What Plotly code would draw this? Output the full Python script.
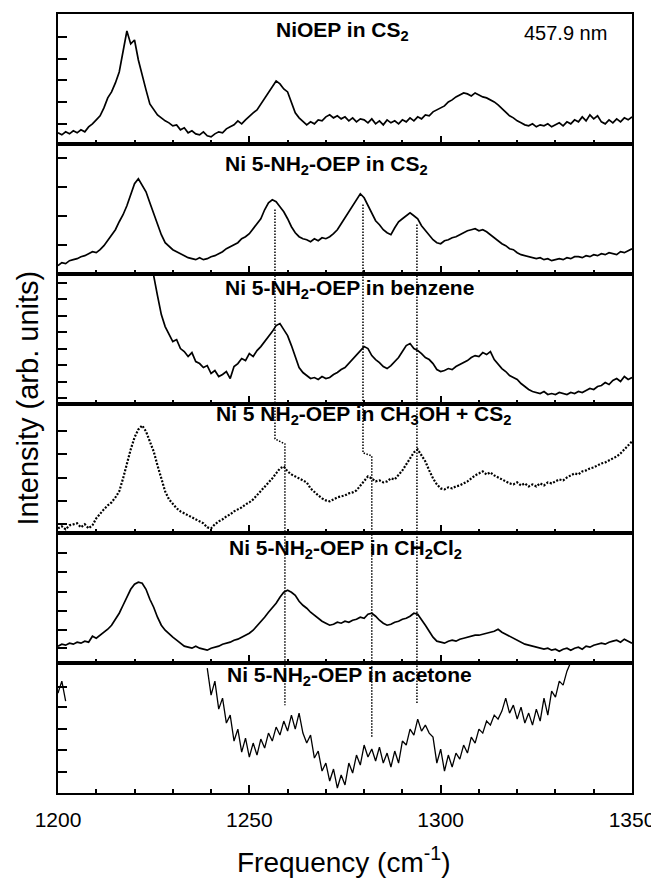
import plotly.graph_objects as go
from plotly.subplots import make_subplots

N = None
freq = list(range(1200, 1351))

niOEP_cs2 = [11, 9, 12, 10, 13, 11, 14, 12, 17, 20,
             24, 28, 36, 46, 52, 61, 72, 91, 113, 100,
             104, 84, 68, 54, 40, 34, 29, 26, 23, 21,
             18, 19, 14, 16, 11, 13, 10, 9, 12, 8,
             7, 10, 12, 11, 15, 17, 19, 23, 20, 24,
             28, 31, 34, 40, 46, 52, 58, 63, 60, 55,
             52, 41, 31, 26, 22, 19, 22, 20, 24, 23,
             27, 29, 26, 28, 25, 27, 23, 26, 22, 25,
             24, 21, 25, 20, 23, 19, 24, 21, 23, 20,
             24, 22, 26, 23, 27, 25, 29, 28, 32, 34,
             36, 38, 42, 44, 47, 49, 51, 50, 48, 51,
             49, 47, 46, 44, 42, 39, 35, 31, 28, 26,
             23, 21, 19, 18, 20, 17, 19, 18, 20, 17,
             19, 21, 18, 22, 20, 24, 22, 27, 23, 29,
             25, 28, 22, 20, 24, 21, 25, 22, 26, 24,
             27]

nh2_cs2 = [8, 11, 10, 13, 14, 15, 17, 18, 20, 22,
           21, 24, 28, 33, 38, 44, 52, 59, 68, 79,
           90, 95, 89, 82, 71, 60, 50, 39, 31, 27,
           24, 22, 20, 18, 16, 15, 14, 16, 14, 15,
           17, 18, 20, 22, 25, 27, 29, 31, 35, 37,
           40, 45, 49, 55, 64, 71, 74, 72, 67, 62,
           55, 47, 41, 37, 35, 34, 32, 35, 33, 36,
           35, 37, 40, 44, 50, 56, 62, 69, 74, 80,
           76, 68, 60, 53, 49, 44, 41, 39, 46, 52,
           55, 58, 61, 58, 55, 48, 43, 38, 34, 31,
           30, 33, 34, 36, 37, 39, 41, 43, 44, 45,
           43, 44, 42, 39, 36, 33, 30, 28, 25, 24,
           21, 19, 18, 17, 16, 15, 16, 14, 15, 13,
           14, 15, 14, 16, 15, 17, 17, 16, 18, 17,
           19, 18, 20, 19, 21, 20, 19, 22, 21, 23,
           25]

nh2_benzene = [N, N, N, N, N, N, N, N, N, N,
               N, N, N, N, N, N, N, N, N, N,
               N, N, N, N, 160, 128, 108, 89, 77, 70,
               62, 64, 55, 52, 47, 51, 42, 40, 36, 38,
               30, 33, 27, 29, 32, 25, 37, 40, 45, 43,
               50, 47, 53, 57, 62, 66, 72, 78, 80, 74,
               68, 58, 46, 36, 31, 28, 25, 26, 24, 27,
               25, 26, 29, 31, 34, 36, 40, 45, 49, 53,
               57, 55, 48, 44, 41, 37, 35, 38, 42, 46,
               52, 58, 60, 55, 53, 50, 46, 44, 40, 34,
               32, 33, 35, 34, 37, 39, 41, 43, 46, 48,
               47, 51, 49, 52, 44, 39, 35, 32, 28, 26,
               24, 20, 17, 14, 12, 11, 10, 12, 9, 10,
               9, 11, 10, 9, 11, 10, 12, 11, 13, 15,
               14, 17, 18, 21, 19, 23, 25, 22, 27, 24,
               26]

nh2_ch3oh_cs2 = [5, 7, 4, 8, 9, 10, 6, 9, 5, 8,
                 15, 20, 24, 28, 31, 36, 42, 55, 70, 84,
                 96, 104, 108, 102, 92, 82, 68, 54, 42, 34,
                 29, 25, 22, 20, 18, 16, 14, 12, 10, 6,
                 5, 9, 12, 14, 17, 19, 22, 24, 26, 29,
                 31, 34, 38, 42, 46, 50, 55, 60, 65, 67,
                 62, 59, 57, 55, 53, 51, 45, 41, 38, 35,
                 33, 32, 34, 36, 37, 38, 40, 41, 43, 48,
                 53, 57, 55, 52, 53, 51, 52, 55, 54, 58,
                 63, 69, 75, 81, 84, 78, 72, 63, 55, 49,
                 45, 44, 46, 45, 47, 48, 50, 52, 55, 58,
                 60, 62, 59, 61, 58, 56, 54, 52, 50, 49,
                 51, 48, 50, 47, 49, 47, 50, 48, 51, 50,
                 52, 54, 53, 56, 58, 60, 59, 62, 63, 65,
                 66, 68, 70, 71, 73, 75, 77, 80, 84, 88,
                 92]

nh2_ch2cl2 = [17, 19, 18, 20, 19, 21, 20, 22, 21, 27,
              25, 28, 31, 34, 38, 44, 50, 58, 66, 74,
              79, 81, 80, 74, 64, 56, 46, 38, 33, 29,
              26, 23, 20, 17, 16, 15, 17, 15, 14, 13,
              15, 16, 17, 19, 20, 21, 23, 24, 26, 28,
              30, 33, 37, 42, 46, 51, 55, 60, 66, 71,
              73, 71, 68, 62, 58, 55, 51, 48, 45, 42,
              40, 38, 39, 41, 40, 42, 41, 43, 44, 46,
              45, 49, 50, 47, 43, 40, 38, 39, 41, 42,
              44, 45, 47, 50, 49, 44, 38, 32, 26, 22,
              21, 20, 22, 23, 22, 24, 25, 26, 27, 28,
              28, 29, 30, 31, 32, 34, 31, 29, 27, 25,
              23, 21, 19, 18, 17, 16, 15, 14, 15, 13,
              14, 12, 14, 15, 13, 15, 16, 14, 17, 16,
              18, 19, 20, 19, 21, 22, 23, 21, 24, 22,
              20]

nh2_acetone = [100, 112, 92, N, N, N, N, N, N, N,
               N, N, N, N, N, N, N, N, N, N,
               N, N, N, N, N, N, N, N, N, N,
               N, N, N, N, N, N, N, N, N, 125,
               98, 112, 84, 95, 70, 78, 52, 64, 41, 55,
               36, 50, 38, 54, 45, 60, 52, 66, 58, 72,
               62, 78, 64, 80, 60, 50, 58, 35, 42, 22,
               30, 12, 24, 5, 18, 8, 30, 20, 38, 28,
               48, 36, 44, 32, 46, 30, 40, 26, 42, 30,
               52, 48, 64, 58, 74, 62, 68, 60, 56, 30,
               44, 22, 38, 26, 40, 34, 48, 40, 56, 50,
               64, 60, 72, 68, 78, 74, 82, 95, 80, 88,
               74, 86, 70, 80, 68, 84, 72, 95, 78, 102,
               96, 112, 108, 122, 130, 140, N, N, N, N,
               N, N, N, N, N, N, N, N, N, N,
               N]

panel_titles = ["NiOEP in CS<sub>2</sub>",
                "Ni 5-NH<sub>2</sub>-OEP in CS<sub>2</sub>",
                "Ni 5-NH<sub>2</sub>-OEP in benzene",
                "Ni 5 NH<sub>2</sub>-OEP in CH<sub>3</sub>OH + CS<sub>2</sub>",
                "Ni 5-NH<sub>2</sub>-OEP in CH<sub>2</sub>Cl<sub>2</sub>",
                "Ni 5-NH<sub>2</sub>-OEP in acetone"]
series = [niOEP_cs2, nh2_cs2, nh2_benzene, nh2_ch3oh_cs2, nh2_ch2cl2, nh2_acetone]
ytick_sets = [[20, 42, 64, 85, 107],
              [29, 58, 87, 116],
              [6, 22, 39, 55, 72, 88, 105, 121],
              [9, 32, 55, 79, 102],
              [15, 33, 52, 71, 91, 110],
              [21, 43, 64, 86, 106]]
xtick_vals = [1200, 1250, 1300, 1350]
xtick_text = ["1200", "1250", "1300", "1350"]

# dotted guide lines (frequency, height above bottom of the stack in stack units)
guideA_f = [1256.7, 1256.7, 1259.3, 1259.3]
guideA_h = [585, 355, 350, 88]
guideB_f = [1279.7, 1279.7, 1282.0, 1282.0]
guideB_h = [590, 341, 338, 56]
guideC_f = [1293.8, 1293.8]
guideC_h = [570, 90]

FONT = "Liberation Sans, Arial, sans-serif"

fig = make_subplots(rows=6, cols=1, shared_xaxes=True, vertical_spacing=0)

for i, ys in enumerate(series):
    dotted = (i == 3)
    fig.add_trace(go.Scatter(
        x=freq, y=ys, mode="lines",
        line=dict(color="black", width=2.2 if dotted else (1.3 if i == 5 else 1.7),
                  dash="2px,1.6px" if dotted else "solid",
                  shape="linear"),
        connectgaps=False, showlegend=False, hoverinfo="skip"),
        row=i + 1, col=1)
    fig.update_yaxes(row=i + 1, col=1, range=[0, 130], tickmode="array",
                     tickvals=ytick_sets[i], ticks="inside", ticklen=9,
                     tickwidth=1.5, tickcolor="black", showticklabels=False,
                     showline=True, linewidth=2, linecolor="black", mirror=True,
                     showgrid=False, zeroline=False, fixedrange=True)
    fig.update_xaxes(row=i + 1, col=1, range=[1200, 1350], tickmode="array",
                     tickvals=xtick_vals, ticktext=xtick_text, ticks="inside",
                     ticklen=8, tickwidth=1.5, tickcolor="black",
                     minor=dict(ticks="inside", ticklen=4, tickwidth=1.5,
                                tickcolor="black", dtick=10, tick0=1200, showgrid=False),
                     showline=True, linewidth=2, linecolor="black", mirror=True,
                     showgrid=False, zeroline=False)

fig.update_xaxes(row=6, col=1, showticklabels=True, ticklabelstandoff=7,
                 tickfont=dict(family=FONT, size=21, color="black"))

# overlay axes for guide lines spanning the whole stack
fig.update_layout(
    xaxis7=dict(domain=[0, 1], anchor="y7", range=[1200, 1350], visible=False, fixedrange=True),
    yaxis7=dict(domain=[0, 1], anchor="x7", range=[0, 781], visible=False, fixedrange=True),
)
for gf, gh in [(guideA_f, guideA_h), (guideB_f, guideB_h), (guideC_f, guideC_h)]:
    fig.add_trace(go.Scatter(x=gf, y=gh, xaxis="x7", yaxis="y7", mode="lines",
                             line=dict(color="black", width=1.5, dash="1.5px,1.5px"),
                             showlegend=False, hoverinfo="skip"))

title_pos = [(0.4965, 0.9776), (0.4686, 0.8067), (0.5087, 0.6466),
             (0.5331, 0.4853), (0.5017, 0.3137), (0.5087, 0.1498)]
annotations = []
for t, (px, py) in zip(panel_titles, title_pos):
    annotations.append(dict(text="<b>" + t + "</b>", x=px, y=py, xref="paper", yref="paper",
                            xanchor="center", yanchor="middle", showarrow=False,
                            font=dict(family=FONT, size=21, color="black")))
annotations.append(dict(text="457.9 nm", x=0.885, y=0.9757, xref="paper", yref="paper",
                        xanchor="center", yanchor="middle", showarrow=False,
                        font=dict(family=FONT, size=20, color="black")))
annotations.append(dict(text="Frequency (cm<sup>-1</sup>)", x=0.498, y=-0.086,
                        xref="paper", yref="paper", xanchor="center", yanchor="middle",
                        showarrow=False, font=dict(family=FONT, size=28, color="black")))
annotations.append(dict(text="Intensity (arb. units)", x=-0.0515, y=0.507, textangle=-90,
                        xref="paper", yref="paper", xanchor="center", yanchor="middle",
                        showarrow=False, font=dict(family=FONT, size=29, color="black")))

# page body has an 8px default margin, so the figure is drawn 8px smaller and offset
fig.update_layout(width=651, height=871,
                  margin=dict(l=50, r=27, t=4, b=86),
                  paper_bgcolor="white", plot_bgcolor="rgba(0,0,0,0)",
                  annotations=annotations, showlegend=False)

fig.write_html("out.html")
